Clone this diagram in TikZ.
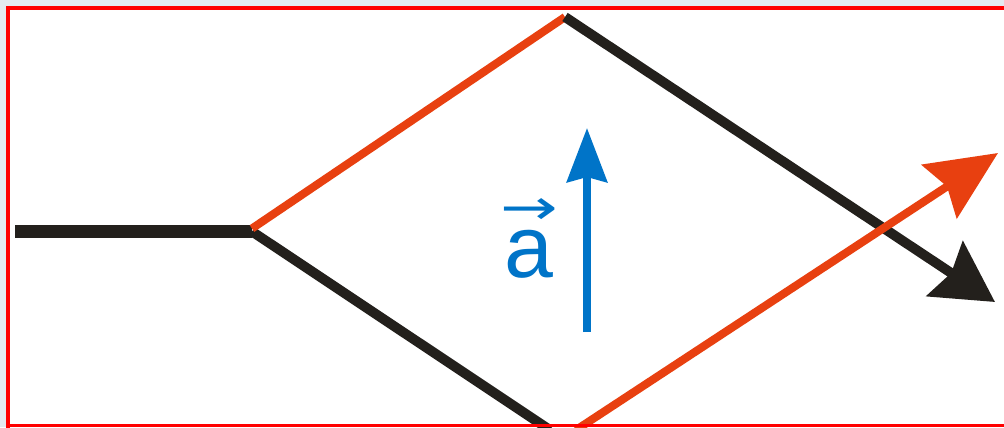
\documentclass[tikz,border=0pt]{standalone}
\usepackage{fontspec}
\usepackage{graphicx}
\setmainfont{Liberation Sans}
\newfontfamily\arrowfont{DejaVu Sans}
\usetikzlibrary{arrows.meta, positioning}
\definecolor{frame}{HTML}{FF0000}
\definecolor{rayred}{HTML}{E84010}
\definecolor{rayblack}{HTML}{23201C}
\definecolor{accblue}{HTML}{0074C8}
\definecolor{outside}{HTML}{E4EAF0}

\begin{document}
\begin{tikzpicture}[x=0.02cm, y=-0.02cm, line join=miter,
    redray/.style={draw=rayred, line width=4.6pt},
    blackray/.style={draw=rayblack, line width=5.6pt},
    vecsym/.style={text=accblue, inner sep=0pt}]
      \useasboundingbox (0,0) rectangle (1004,427);
      \fill[outside] (0,0) rectangle (1004,427);
      \fill[white] (8,8) rectangle (1010,430);

      \coordinate (in) at (15,231.5);
      \coordinate (split) at (252,231.5);
      \coordinate (top) at (565,17);
      \coordinate (bot) at (550,430);
      \coordinate (redbot) at (576,430);
      \coordinate (blacktip) at (995,302);
      \coordinate (redtip) at (998,153);
      \coordinate (afoot) at (587,332);
      \coordinate (atip) at (587,128);

      \draw[blackray, line width=7pt] (in) -- (split);
      \draw[blackray] (split) -- (bot);
      \draw[redray] (split) ++(0,-3) -- (top);
      \draw[blackray, -{Stealth[length=1.2cm, width=1.3cm, inset=0.15cm]}] (top) -- (blacktip);
      \draw[redray, -{Stealth[length=1.4cm, width=1.27cm, inset=0.18cm]}] (redbot) -- (redtip);
      \draw[draw=accblue, line width=4.4pt, -{Stealth[length=1.08cm, width=0.8cm, inset=0.1cm]}] (afoot) -- (atip);

      \node[vecsym, anchor=base, font=\fontsize{50}{50}\selectfont] (avec) at (529,277) {a};
      \node[vecsym, anchor=base, yshift=1.06cm, text depth=0pt, font=\arrowfont\fontsize{28}{28}\selectfont] (aarrow) at (avec.base) {\scalebox{1.4}[1]{→}};

      \draw[frame, line width=1.8pt] (8,430) |- (1010,8);
      \draw[frame, line width=1.8pt] (8,425.5) -- (1010,425.5);
    \end{tikzpicture}
\end{document}
